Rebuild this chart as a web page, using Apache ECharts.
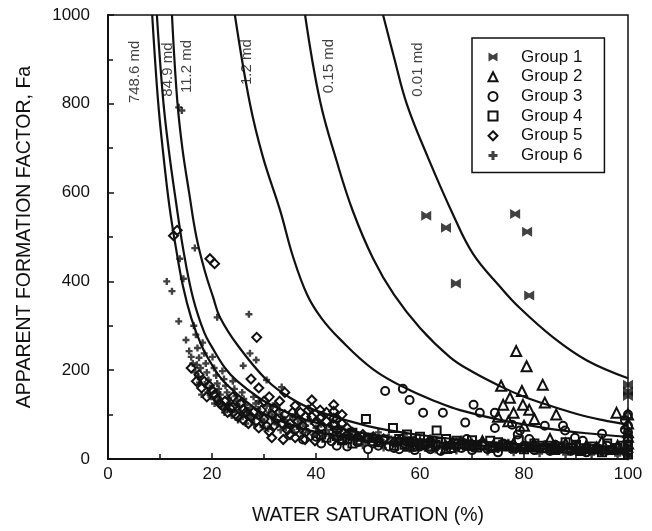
<!DOCTYPE html>
<html>
<head>
<meta charset="utf-8">
<script src="https://cdn.jsdelivr.net/npm/echarts@6/dist/echarts.min.js"></script>
<style>html,body{margin:0;padding:0;background:#fff}#c{width:652px;height:531px}</style>
</head>
<body>
<div id="c"></div>
<script>
// ---- Data (water saturation %, apparent formation factor) ----
var xTicks = [0, 20, 40, 60, 80, 100];
var yTicks = [0, 200, 400, 600, 800, 1000];

// iso-permeability curves
var curve748 = [[8.5,1000],[9.6,810],[10.6,690],[11.8,570],[13,480],[14.4,390],[16,318],[18,255],[20,212],[22,178],[26,135],[30,102],[35,78],[40,61],[50,41],[60,30],[70,23],[80,18],[90,14],[100,12]];
var curve849 = [[9.4,1000],[10.6,810],[11.7,695],[13,585],[14.5,470],[16.3,365],[18.5,285],[20,252],[22.5,205],[24.8,176],[29,138],[32,118],[36,97],[40,82],[50,56],[60,41],[70,32],[80,25],[90,21],[100,17]];
var curve112 = [[12.3,1000],[13.3,810],[14.3,700],[15.6,600],[17,500],[18.7,420],[20.2,365],[21.5,320],[25,255],[30.5,178],[35,138],[40,109],[50,74],[60,54],[70,41],[80,32],[90,26],[100,22]];
var curve12 = [[24.4,1000],[27.3,800],[29.8,680],[33.1,560],[35.6,455],[38.3,370],[41,318],[44.6,270],[51,202],[57.5,158],[63.8,126],[67.7,110],[75.4,88],[85,68],[92,58],[100,50]];
var curve015 = [[37.9,1000],[40.8,805],[44,670],[47.1,558],[51,451],[55,370],[60,295],[65.8,229],[70,197],[75.6,163],[80,140],[84,124],[90,102],[95,88],[100,77]];
var curve001 = [[52.9,1000],[55,905],[57.5,798],[61.5,680],[66.3,552],[70.2,462],[75.4,388],[79.2,340],[85.6,274],[92.1,222],[100,182]];

var curveLabels = [[5.2,872,'748.6 md'],[11.5,877,'84.9 md'],[15.2,884,'11.2 md'],[26.7,894,'1.2 md'],[42.5,885,'0.15 md'],[59.6,877,'0.01 md']];

var group1 = [[61.2,548],[65,521],[78.3,552],[80.6,512],[66.9,395],[81,368],[100,167],[100,152],[100,142]];
var group2 = [[78.5,243],[80.5,209],[83.6,167],[75.6,165],[79.6,153],[84,127],[86.2,100],[97.8,104],[77.3,138],[76,122],[78,104],[81,111],[79.8,122],[75,95],[77,85],[80,75],[82,90],[72,40],[88,35],[92,30],[65,25],[58,30],[100,100],[100,80],[100,60],[95,40],[85,45],
  [60,35],[62,30],[70,32],[74,28],[78,35],[82,32],[86,28],[90,25],[94,26],[98,30],[100,50],[100,35]];
var group3 = [[53.3,153],[56.7,158],[58,133],[60.6,104],[64.4,104],[37.5,44],[70.3,122],[71.5,104],[68.7,82],[74.4,104],[74.4,70],[77.7,77],[78.8,55],[79.2,64],[84,75],[87.5,75],[87.9,64],[89.8,48],[95,57],[91.3,41],[99.4,88],[99.4,66],[100,48],[100,100],[100,30],[40,50],[45,45],[48,38],[52,30],[55,25],[57,35],[60,28],[62,22],[66,32],[68,25],[71,30],[73,22],[76,35],[80,30],[83,25],[86,32],[90,28],[93,22],[96,30],[98,25],[62,40],[69,45],[81,45],[44,30],[50,22],[59,20],[64,18],[75,15],[85,18],[92,15],
  [41,35],[43,40],[46,28],[51,35],[54,28],[56,22],[61,30],[65,22],[67,28],[70,20],[74,25],[78,28],[82,20],[87,25],[89,18],[94,25],[97,20],[100,60],[100,75]];
var group4 = [[49.6,90],[54.8,70],[63.2,64],[57.5,55],[47,59],[43.6,75],[73.5,41],[67,41],[41,55],[45,42],[50,48],[52,38],[56,45],[58,40],[60,50],[61,35],[65,45],[68,35],[70,42],[72,32],[75,38],[77,30],[79,42],[82,35],[85,30],[88,38],[90,32],[93,28],[96,35],[100,40],[100,30],[100,20],[98,25],[62,28],[66,25],[55,30],[47,35],[80,22],[86,20],[91,18],[95,15],[100,10],
  [42,48],[44,52],[46,45],[48,42],[51,40],[53,44],[57,32],[59,28],[63,32],[64,38],[69,30],[71,26],[74,28],[76,32],[78,25],[81,28],[83,30],[84,24],[87,28],[89,25],[92,24],[94,22],[97,20],[99,30]];
var group5 = [[12.6,503],[13.3,515],[19.6,451],[20.5,440],[28.6,274],[16,205],[17,175],[18,160],[19,140],[20,155],[21,135],[22,120],[23,105],[24,140],[25,95],[26,88],[27,80],[28,105],[29,70],[30,90],[31,62],[32,75],[31.5,48],[33.7,44],[35,55],[36,65],[37.9,44],[39.8,41],[38,95],[39.2,133],[39.2,114],[39.2,95],[40.8,110],[40.8,92],[43.4,122],[43.4,107],[43.4,92],[43.4,77],[42,85],[44,65],[45,80],[46,55],[48,50],[50,45],[52,40],[55,38],[58,35],[60,32],[65,30],[70,28],[75,26],[80,24],[85,22],[90,20],[95,18],[100,15],[30,130],[32,115],[34,100],[26,112],[24,118],[35,80],[36,120],[34,150],[31,140],[27.5,180],[29,160],[33,130],[37,105],[41,70],[38,60],[36,48],
  [17.5,190],[18.5,175],[19.5,165],[20.5,145],[21.5,125],[22.5,130],[23.5,115],[24.5,100],[25.5,125],[26.5,105],[27.5,95],[28.5,85],[29.5,110],[30.5,75],[31.5,100],[32.5,90],[33.5,80],[34.5,65],[35.5,105],[36.5,85],[37.5,75],[38.5,110],[40,80],[41,95],[42,105],[44,90],[45,100],[46,70],[47,60],[49,55],[51,50],[53,45],[56,42],[59,40],[62,38],[67,35],[72,32],[77,30],[82,28],[87,26],[92,24],[97,22]];
var group6 = [[13.6,792],[14.2,785],[16.7,475],[11.3,400],[12.3,378],[13.6,310],[14.5,406],[13.8,451],[21,319],[27.1,326],[15,268],[15.6,243],[16.5,300],[16.9,280],[17.2,250],[17.5,228],[17.8,205],[17.4,185],[18.2,262],[18.5,238],[18.8,215],[19,195],[19.3,178],[19.6,160],[19.2,150],[20.1,230],[20.4,205],[20.8,188],[21,170],[21.3,158],[21.6,145],[21.2,132],[22,198],[22.3,180],[22.6,165],[22.9,150],[23.2,138],[23.5,125],[23,112],[24,175],[24.3,158],[24.6,142],[24.9,130],[25.2,118],[25.5,105],[25.8,150],[26.1,135],[26.4,122],[26.8,110],[27.2,98],[27.6,88],[28,140],[28.4,125],[28.8,112],[29.2,100],[29.6,90],[30,82],[30.5,120],[31,105],[31.5,95],[32,85],[32.5,78],[33,110],[33.5,95],[34,88],[34.5,80],[35,72],[36,100],[36.5,90],[37,80],[38,75],[39,85],[40,70],[41,78],[42,65],[43,72],[44,60],[45,68],[46,58],[47,62],[48,55],[50,52],[52,48],[54,50],[56,45],[58,42],[60,44],[63,40],[66,38],[70,36],[74,33],[78,30],[82,28],[86,26],[90,25],[94,22],[98,20],[100,18],[100,25],[27.3,238],[28.5,223],[26,210],[30.5,178],[33.4,162],[17.3,185],[17.1,212],[21,149],[23,122],[24.8,122],[26.7,100],[28.6,97],[45,50],[50,40],[55,35],[60,30],[65,28],[70,25],[75,22],[80,20],[85,18],[90,16],[95,14],[100,12],[52,60],[57,55],[62,48],[68,45],[72,42],[77,38],[84,35],[88,32],[92,30],[97,28],[49,30],[53,25],[58,22],[63,20],[67,18],[73,16],[78,14],[83,12],[88,10],[93,10],[98,8],
  [16,230],[16.3,215],[16.8,195],[17.6,172],[18,145],[18.6,168],[19.8,140],[20.5,125],[21.8,118],[22.4,105],[23.8,98],[24.5,110],[25,88],[25.9,95],[26.5,80],[27.4,115],[28.1,78],[29,130],[29.8,72],[30.8,68],[31.7,120],[32.3,100],[33.2,65],[34.2,70],[35.5,95],[35.8,60],[36.8,68],[37.5,58],[38.5,62],[39.5,55],[40.5,60],[41.5,52],[42.5,56],[43.5,48],[44.5,52],[45.5,45],[46.5,48],[47.5,42],[48.5,46],[49.5,40],[51,44],[53,38],[55,42],[57,36],[59,38],[61,34],[62,36],[64,32],[66,30],[68,33],[69,28],[71,30],[73,27],[75,30],[76,26],[79,25],[81,27],[83,22],[85,24],[87,20],[89,22],[91,20],[93,18],[95,20],[96,16],[99,15],[100,20],[100,8],[100,5]];

// ---- Chart ----
var FONT = '"Liberation Sans", Arial, Helvetica, sans-serif';
var INK = '#111';
var chart = echarts.init(document.getElementById('c'), null, {renderer: 'canvas'});

function curveSeries(name, data) {
  return {name: name, type: 'line', data: data, smooth: 0.4, showSymbol: false, symbol: 'none',
    lineStyle: {color: INK, width: 2.2}, silent: true, z: 3, clip: true};
}
function hollow(name, data, symbol, size, bw) {
  return {name: name, type: 'scatter', data: data, symbol: symbol, symbolSize: size,
    itemStyle: {color: 'rgba(0,0,0,0)', borderColor: INK, borderWidth: bw, opacity: 1}, z: 4};
}
var bowtie = 'path://M0,0L5,3L10,0L10,10L5,7L0,10Z';
var plus = 'path://M3.3,0H6.7V3.3H10V6.7H6.7V10H3.3V6.7H0V3.3H3.3Z';

var option = {
  animation: false,
  backgroundColor: '#fff',
  textStyle: {fontFamily: FONT, color: INK},
  grid: {left: 108, right: 24, top: 15, bottom: 70, show: true, borderColor: INK, borderWidth: 1.5, backgroundColor: 'transparent'},
  xAxis: {
    type: 'value', min: xTicks[0], max: xTicks[xTicks.length - 1], interval: 20,
    name: 'WATER SATURATION (%)', nameLocation: 'middle', nameGap: 47,
    nameTextStyle: {fontFamily: FONT, fontSize: 19.5, color: INK},
    axisLine: {lineStyle: {color: INK, width: 2}},
    axisTick: {inside: true, length: 6, lineStyle: {color: INK, width: 1.5}},
    minorTick: {show: true, splitNumber: 2, length: 5, lineStyle: {color: INK, width: 1.5}},
    axisLabel: {fontFamily: FONT, fontSize: 17, color: INK, margin: 7, formatter: function (v) { return String(v); }},
    splitLine: {show: false}
  },
  yAxis: {
    type: 'value', min: yTicks[0], max: yTicks[yTicks.length - 1], interval: 200,
    name: 'APPARENT FORMATION FACTOR, Fa', nameLocation: 'middle', nameGap: 73, nameRotate: 90,
    nameTextStyle: {fontFamily: FONT, fontSize: 19.5, color: INK},
    axisLine: {lineStyle: {color: INK, width: 2}},
    axisTick: {inside: true, length: 6, lineStyle: {color: INK, width: 1.5}},
    minorTick: {show: true, splitNumber: 2, length: 5, lineStyle: {color: INK, width: 1.5}},
    axisLabel: {fontFamily: FONT, fontSize: 17, color: INK, margin: 18, formatter: function (v) { return String(v); }},
    splitLine: {show: false}
  },
  legend: {
    data: ['Group 1', 'Group 2', 'Group 3', 'Group 4', 'Group 5', 'Group 6'],
    orient: 'vertical', left: 472, top: 38,
    borderColor: INK, borderWidth: 1.5, backgroundColor: '#fff',
    padding: [10.5, 22, 8.5, 15.5],
    itemWidth: 9, itemHeight: 9, itemGap: 2.7, symbolKeepAspect: true,
    textStyle: {fontFamily: FONT, fontSize: 17, color: INK, lineHeight: 17, padding: [0, 0, 0, 18.5]},
    selectedMode: false
  },
  series: [
    curveSeries('c748', curve748),
    curveSeries('c849', curve849),
    curveSeries('c112', curve112),
    curveSeries('c12', curve12),
    curveSeries('c015', curve015),
    curveSeries('c001', curve001),
    {name: 'Group 1', type: 'scatter', data: group1, symbol: bowtie, symbolSize: 10, itemStyle: {color: INK}, z: 5},
    hollow('Group 2', group2, 'triangle', 10, 2),
    hollow('Group 3', group3, 'circle', 8, 2),
    hollow('Group 4', group4, 'rect', 8, 2),
    hollow('Group 5', group5, 'diamond', 9, 2),
    {name: 'Group 6', type: 'scatter', data: group6, symbol: plus, symbolSize: 7, itemStyle: {color: INK}, z: 5},
    {name: 'labels', type: 'scatter', symbolSize: 0, silent: true, z: 6,
      data: curveLabels.map(function (d) { return {value: [d[0], d[1]], name: d[2]}; }),
      label: {show: true, position: 'inside', rotate: 90, formatter: '{b}', fontFamily: FONT, fontSize: 15, color: INK, align: 'center', verticalAlign: 'middle'}}
  ]
};
chart.setOption(option);
</script>
</body>
</html>
